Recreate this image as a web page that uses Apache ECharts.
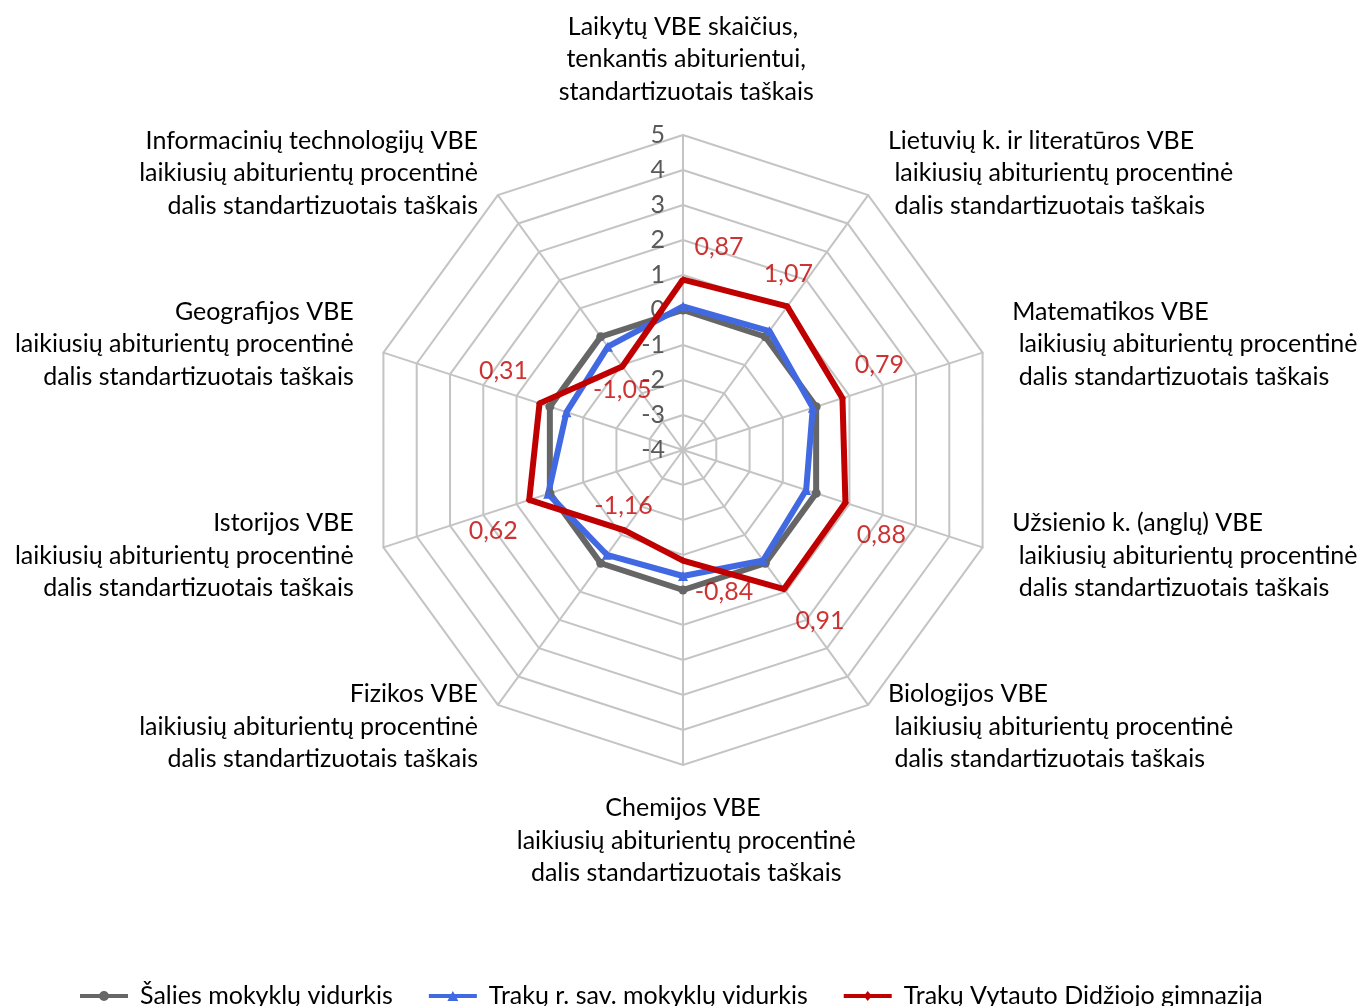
<!DOCTYPE html>
<html><head><meta charset="utf-8">
<script src="https://cdn.jsdelivr.net/npm/echarts@6/dist/echarts.min.js"></script>
<style>html,body{margin:0;padding:0;background:#fff}#c{width:1365px;height:1006px}</style>
</head><body><div id="c"></div>
<script>
// ---- data ----
const indicatorNames = [
  'Laikytų VBE skaičius,\n tenkantis abiturientui,\n standartizuotais taškais',
  'Lietuvių k. ir literatūros VBE\n laikiusių abiturientų procentinė\n dalis standartizuotais taškais',
  'Matematikos VBE\n laikiusių abiturientų procentinė\n dalis standartizuotais taškais',
  'Užsienio k. (anglų) VBE\n laikiusių abiturientų procentinė\n dalis standartizuotais taškais',
  'Biologijos VBE\n laikiusių abiturientų procentinė\n dalis standartizuotais taškais',
  'Chemijos VBE\n laikiusių abiturientų procentinė\n dalis standartizuotais taškais',
  'Fizikos VBE\n laikiusių abiturientų procentinė\n dalis standartizuotais taškais',
  'Istorijos VBE\n laikiusių abiturientų procentinė\n dalis standartizuotais taškais',
  'Geografijos VBE\n laikiusių abiturientų procentinė\n dalis standartizuotais taškais',
  'Informacinių technologijų VBE\n laikiusių abiturientų procentinė\n dalis standartizuotais taškais'
];
const seriesNames = ['Šalies mokyklų vidurkis', 'Trakų r. sav. mokyklų vidurkis', 'Trakų Vytauto Didžiojo gimnazija'];
const saliesValues = [0, 0, 0, 0, 0, 0, 0, 0, 0, 0];
const rajonoValues = [0.1, 0.2, -0.1, -0.3, -0.1, -0.4, -0.3, 0.05, -0.5, -0.35];
const gimnazijosValues = [0.87, 1.07, 0.79, 0.88, 0.91, -0.84, -1.16, 0.62, 0.31, -1.05];
const axisMin = -4;
const axisMax = 5;

// ---- styling ----
const FONT = 'Lato';
const FS = 25;
const CX = 683, CY = 450, R = 315;
const colors = ['#666666', '#4169E1', '#C00000'];
const labelOffsets = [[36,-33],[1,-33],[37,-33],[36,32],[36,32],[41,31],[-1,-24],[-36,31],[-36,-32],[0,23]];

// ECharts radar runs counter-clockwise; reorder so axes run clockwise as in the reference
const order = [0, 9, 8, 7, 6, 5, 4, 3, 2, 1];
const reorder = arr => order.map(i => arr[i]);

const indicator = reorder(indicatorNames).map((n, k) => {
  const o = { name: n, min: axisMin, max: axisMax };
  if (k === 0) {
    o.axisLabel = { show: true, color: '#595959', fontSize: FS, fontFamily: FONT, margin: 18 };
  } else {
    o.axisLabel = { show: false };
  }
  return o;
});

const icons = [
  'path://M0,5h48v4H0zM19,7a5,5 0 1,1 10,0a5,5 0 1,1 -10,0z',
  'path://M0,5h48v4H0zM24,2L29.5,12L18.5,12z',
  'path://M0,5h48v4H0zM24,2L28,7L24,12L20,7z'
];
const symbols = ['circle', 'triangle', 'diamond'];
const symbolSizes = [9, 10, 7];
const allValues = [saliesValues, rajonoValues, gimnazijosValues];

const option = {
  backgroundColor: '#ffffff',
  animation: false,
  legend: {
    top: 978, left: 75,
    itemWidth: 48, itemHeight: 10, itemGap: 36,
    textStyle: { fontSize: FS, fontFamily: FONT, color: '#000', lineHeight: 26, padding: [0, 0, 0, 7] },
    data: seriesNames.map((n, i) => ({ name: n, icon: icons[i], itemStyle: { color: colors[i] } }))
  },
  radar: {
    center: [CX, CY], radius: R, startAngle: 90,
    shape: 'polygon', splitNumber: 9,
    axisName: { color: '#000', fontSize: FS, fontFamily: FONT, lineHeight: 32.5, padding: [0, 4, 0, 4] },
    nameGap: 27,
    axisLine: { lineStyle: { color: '#C4C4C4', width: 2 } },
    splitLine: { lineStyle: { color: '#C4C4C4', width: 2 } },
    splitArea: { show: false },
    axisTick: { show: false },
    axisLabel: { show: false },
    indicator: indicator
  },
  polar: { center: [CX, CY], radius: R },
  angleAxis: { type: 'value', min: 0, max: indicatorNames.length, startAngle: 90, clockwise: true, show: false },
  radiusAxis: { type: 'value', min: axisMin, max: axisMax, show: false },
  series: [
    {
      type: 'radar',
      z: 2,
      lineStyle: { width: 6 },
      data: seriesNames.map((n, i) => ({
        name: n,
        value: reorder(allValues[i]),
        symbol: symbols[i],
        symbolSize: symbolSizes[i],
        lineStyle: { color: colors[i], width: 6 },
        itemStyle: { color: colors[i] }
      }))
    },
    {
      type: 'scatter',
      coordinateSystem: 'polar',
      z: 5,
      symbolSize: 0,
      silent: true,
      data: gimnazijosValues.map((v, i) => ({
        value: [v, i],
        label: {
          show: true, position: 'inside', offset: labelOffsets[i],
          formatter: v.toFixed(2).replace('.', ','),
          color: '#C00000', fontSize: FS, fontFamily: FONT
        }
      }))
    }
  ]
};

const chart = echarts.init(document.getElementById('c'), null, { renderer: 'canvas' });
chart.setOption(option);
</script>
</body></html>
